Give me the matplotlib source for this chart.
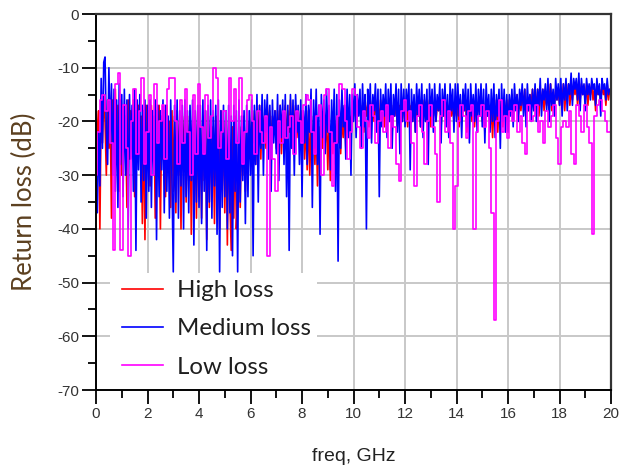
import numpy as np
import matplotlib.pyplot as plt
from matplotlib.patches import Rectangle

plt.rcParams['axes.unicode_minus'] = False

# sample spacing: 0.05 GHz for high / medium, 0.1 GHz for low loss
freq_fine = np.arange(401) / 20.0
freq_coarse = np.arange(201) / 10.0

high_loss = [
    -27, -22, -18, -40, -17, -24, -15, -20, -30, -16, -25, -18, -38, -16, -22, -14, -28, -17, -33, -16,
    -30, -17, -25, -19, -36, -16, -27, -18, -22, -16, -34, -18, -26, -17, -24, -19, -39, -18, -42, -17,
    -28, -18, -32, -17, -25, -19, -38, -18, -30, -17, -40, -19, -27, -18, -34, -17, -29, -20, -36, -18,
    -33, -19, -37, -18, -30, -20, -40, -19, -28, -18, -35, -19, -31, -18, -41, -20, -29, -19, -38, -18,
    -34, -20, -38, -19, -31, -18, -42, -20, -36, -19, -33, -21, -39, -19, -35, -20, -40, -18, -32, -20,
    -37, -19, -43, -20, -35, -44, -21, -38, -19, -40, -34, -20, -36, -21, -30, -19, -33, -22, -28, -20,
    -26, -19, -24, -18, -28, -19, -23, -17, -27, -18, -22, -19, -25, -17, -21, -18, -24, -19, -22, -18,
    -25, -18, -23, -17, -26, -19, -21, -17, -24, -18, -22, -16, -25, -18, -21, -17, -23, -19, -22, -18,
    -24, -19, -27, -20, -29, -18, -30, -21, -26, -19, -28, -20, -32, -21, -27, -19, -25, -20, -24, -19,
    -29, -20, -31, -21, -26, -19, -28, -20, -24, -18, -26, -19, -23, -17, -25, -18, -22, -19, -21, -18,
    -19, -16, -21, -17, -18, -16, -20, -17, -22, -16, -19, -17, -21, -16, -18, -17, -20, -16, -19, -17,
    -20, -16, -19, -17, -21, -16, -18, -17, -20, -16, -22, -17, -19, -16, -21, -17, -18, -16, -20, -17,
    -19, -17, -21, -16, -18, -17, -20, -16, -22, -17, -19, -16, -21, -17, -18, -16, -20, -17, -19, -16,
    -21, -17, -19, -16, -20, -17, -18, -16, -21, -17, -19, -16, -20, -17, -22, -16, -19, -17, -20, -16,
    -19, -17, -21, -16, -20, -17, -18, -16, -22, -17, -19, -16, -20, -17, -21, -16, -19, -17, -18, -16,
    -20, -17, -22, -16, -19, -17, -21, -18, -23, -17, -20, -16, -22, -17, -19, -16, -21, -17, -18, -16,
    -19, -16, -18, -15, -20, -16, -17, -15, -19, -16, -18, -15, -17, -14, -19, -16, -18, -15, -17, -14,
    -18, -15, -17, -14, -19, -15, -16, -14, -18, -15, -17, -14, -16, -13, -18, -15, -17, -14, -16, -14,
    -17, -14, -16, -13, -18, -14, -15, -13, -17, -14, -16, -13, -15, -13, -17, -14, -16, -13, -15, -14,
    -16, -13, -17, -14, -15, -13, -16, -14, -18, -13, -15, -14, -16, -13, -15, -14, -17, -13, -16, -14,
    -15,
]

medium_loss = [
    -30, -37, -22, -32, -12, -25, -9, -8, -22, -28, -10, -24, -13, -30, -14, -33, -16, -36, -13, -28,
    -15, -34, -14, -30, -16, -40, -15, -27, -17, -33, -14, -44, -16, -29, -15, -35, -17, -31, -16, -38,
    -17, -33, -16, -36, -18, -30, -16, -42, -17, -34, -18, -29, -16, -37, -17, -33, -19, -38, -16, -31,
    -48, -17, -35, -16, -38, -18, -32, -17, -40, -16, -34, -18, -37, -17, -31, -16, -43, -18, -35, -17,
    -36, -17, -39, -16, -33, -18, -44, -17, -35, -16, -38, -18, -32, -17, -41, -16, -48, -18, -36, -17,
    -34, -18, -40, -17, -37, -19, -45, -17, -33, -18, -48, -16, -35, -19, -31, -18, -39, -17, -34, -18,
    -30, -16, -45, -17, -28, -15, -35, -17, -25, -15, -30, -16, -22, -15, -27, -17, -33, -16, -24, -18,
    -26, -15, -31, -17, -23, -16, -28, -15, -34, -17, -44, -15, -25, -16, -30, -15, -22, -17, -28, -16,
    -34, -18, -24, -15, -28, -17, -22, -14, -36, -16, -25, -14, -28, -17, -41, -15, -23, -16, -26, -14,
    -22, -17, -29, -16, -24, -14, -33, -15, -46, -16, -25, -14, -21, -17, -27, -14, -23, -15, -30, -15,
    -20, -13, -23, -15, -19, -14, -25, -13, -21, -15, -40, -14, -20, -13, -24, -15, -18, -13, -22, -14,
    -34, -14, -21, -15, -19, -13, -23, -14, -20, -13, -25, -15, -19, -13, -22, -14, -26, -13, -20, -14,
    -21, -14, -18, -13, -29, -14, -20, -15, -22, -13, -19, -14, -21, -13, -23, -15, -20, -14, -28, -13,
    -19, -14, -22, -13, -20, -15, -18, -13, -24, -14, -19, -13, -21, -15, -23, -13, -18, -14, -22, -13,
    -20, -13, -19, -15, -23, -14, -18, -13, -21, -14, -24, -13, -19, -15, -20, -13, -22, -14, -19, -13,
    -21, -14, -24, -13, -19, -15, -22, -14, -20, -13, -23, -15, -19, -14, -25, -13, -20, -14, -22, -15,
    -22, -15, -19, -14, -21, -13, -18, -15, -20, -14, -17, -13, -19, -14, -21, -13, -18, -15, -20, -14,
    -18, -13, -20, -14, -17, -12, -19, -14, -16, -13, -18, -12, -20, -13, -17, -14, -19, -12, -16, -13,
    -17, -12, -19, -13, -16, -12, -18, -13, -15, -11, -17, -12, -14, -12, -16, -11, -18, -12, -15, -13,
    -18, -12, -15, -13, -16, -12, -14, -13, -17, -12, -15, -13, -19, -12, -14, -13, -16, -12, -15, -14,
    -14,
]

low_loss = [
    -30, -22, -16, -15, -18, -16, -24, -44, -13, -11,
    -44, -17, -25, -45, -20, -14, -26, -18, -12, -28,
    -22, -15, -30, -13, -24, -20, -17, -27, -14, -12,
    -12, -20, -28, -16, -24, -14, -22, -30, -15, -26,
    -13, -21, -26, -15, -23, -19, -10, -12, -25, -22,
    -18, -27, -12, -20, -14, -24, -12, -28, -22, -16,
    -15, -20, -26, -18, -22, -24, -19, -45, -21, -27,
    -33, -20, -24, -18, -23, -21, -19, -26, -18, -20,
    -24, -17, -15, -16, -22, -26, -19, -17, -30, -15,
    -14, -22, -32, -24, -19, -13, -14, -20, -27, -22,
    -14, -15, -21, -25, -18, -20, -23, -17, -19, -24,
    -20, -18, -22, -17, -25, -19, -21, -28, -31, -18,
    -16, -20, -18, -24, -32, -19, -17, -22, -28, -20,
    -17, -21, -26, -35, -19, -16, -22, -18, -24, -40,
    -32, -20, -17, -19, -23, -18, -17, -40, -22, -19,
    -17, -21, -18, -25, -37, -57, -20, -16, -22, -19,
    -23, -18, -20, -17, -22, -19, -24, -26, -17, -20,
    -19, -17, -22, -20, -24, -18, -21, -19, -17, -23,
    -28, -21, -20, -21, -18, -26, -28, -17, -19, -22,
    -17, -21, -24, -41, -19, -17, -16, -18, -20, -22,
    -22,
]

fig = plt.figure(figsize=(6.28, 4.69), dpi=100)
ax = fig.add_axes([0.1529, 0.1684, 0.8201, 0.8017])

ax.plot(freq_fine, high_loss, color="#ff0000", lw=1.2, label="High loss", zorder=2)
ax.plot(freq_fine, medium_loss, color="#0000ff", lw=1.2, label="Medium loss", zorder=2)
ax.plot(freq_coarse, low_loss, color="#ff00ff", lw=1.2, drawstyle="steps-mid",
        label="Low loss", zorder=2)

ax.set_xlim(0, 20)
ax.set_ylim(-70, 0)
ax.set_xticks(np.arange(0, 21, 2))
ax.set_xticks(np.arange(1, 20, 2), minor=True)
ax.set_yticks(np.arange(-70, 1, 10))
ax.set_yticks(np.arange(-65, 0, 10), minor=True)

ax.set_axisbelow(True)
ax.grid(True, which="major", color="#c8c8c8", lw=1.4)

# white patch behind the legend hides the grid
ax.add_patch(Rectangle((0.027, 0.0), 0.403, 0.311, transform=ax.transAxes,
                       facecolor="white", edgecolor="none", zorder=1))

ax.tick_params(which="major", direction="out", length=10, width=1.3, colors="black",
               labelcolor="#333333", labelsize=11, pad=2)
ax.tick_params(which="minor", direction="out", length=6, width=1.3, colors="black")
for lab in ax.get_xticklabels() + ax.get_yticklabels():
    lab.set_family("Liberation Sans")

for side in ["left", "bottom"]:
    ax.spines[side].set_color("black")
    ax.spines[side].set_linewidth(1.4)
for side in ["top", "right"]:
    ax.spines[side].set_color("#333333")
    ax.spines[side].set_linewidth(1.6)

ax.set_xlabel("freq, GHz", fontsize=14, family="Liberation Sans", color="#222222")
ax.xaxis.set_label_coords(0.5, -0.155)
ax.set_ylabel("Return loss (dB)", fontsize=18.5, family="Lato", color="#5c4020")
ax.yaxis.set_label_coords(-0.115, 0.5)

leg = ax.legend(loc="center left", bbox_to_anchor=(0.027, 0.163), frameon=False,
                prop={"family": "Lato", "size": 17.3}, handlelength=1.7,
                handletextpad=0.6, labelspacing=0.72, borderpad=0)
for t in leg.get_texts():
    t.set_color("#1f1f1f")

fig.savefig("out.png", dpi=100)
